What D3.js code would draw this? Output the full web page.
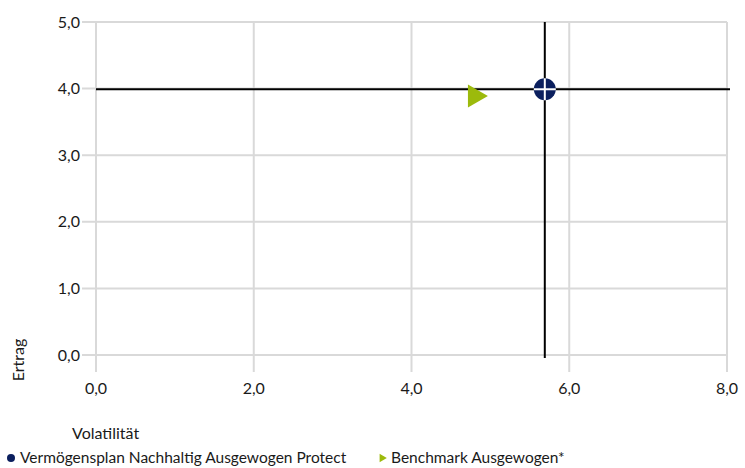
<!DOCTYPE html>
<html><head><meta charset="utf-8">
<script src="https://cdn.jsdelivr.net/npm/d3@7"></script>
<style>body{margin:0;background:#fff;} text{font-family:Lato,"Open Sans",sans-serif;fill:#1a1a1a;}</style>
</head><body><svg id="c" width="745" height="468"></svg>
<script>
const xTicks=[0,2,4,6,8];
const yTicks=[0,1,2,3,4,5];
const seriesNames=["Vermögensplan Nachhaltig Ausgewogen Protect","Benchmark Ausgewogen*"];
const fundPoint=[5.69,3.99];
const benchPoint=[4.8,3.89];
const fundColor="#0b1f5e", benchColor="#9cba0c";
const fmt=d=>d.toFixed(1).replace(".",",");

const svg=d3.select("#c");
const x=d3.scaleLinear().domain([0,8]).range([96,727]);
const y=d3.scaleLinear().domain([0,5]).range([355,22]);

// grid
svg.append("g").selectAll("line").data(yTicks).join("line")
 .attr("x1",82).attr("x2",x(8)).attr("y1",d=>y(d)).attr("y2",d=>y(d))
 .attr("stroke","#d9d9d9").attr("stroke-width",2);
svg.append("g").selectAll("line").data(xTicks).join("line")
 .attr("x1",d=>x(d)).attr("x2",d=>x(d)).attr("y1",y(5)).attr("y2",372)
 .attr("stroke","#d9d9d9").attr("stroke-width",2);

// tick labels
svg.append("g").selectAll("text").data(yTicks).join("text")
 .attr("x",80).attr("y",d=>y(d)).attr("dy","0.35em").attr("text-anchor","end")
 .attr("font-size",16).text(fmt);
svg.append("g").selectAll("text").data(xTicks).join("text")
 .attr("x",d=>x(d)).attr("y",388).attr("dy","0.35em").attr("text-anchor","middle")
 .attr("font-size",16).text(fmt);

// axis titles
svg.append("text").attr("transform","translate(24,360) rotate(-90)")
 .attr("text-anchor","middle").attr("font-size",16).text("Ertrag");
svg.append("text").attr("x",72).attr("y",433).attr("dy","0.35em")
 .attr("font-size",16).text("Volatilität");

// crosshair lines for fund
svg.append("line").attr("x1",x(0)).attr("x2",730).attr("y1",y(fundPoint[1])).attr("y2",y(fundPoint[1]))
 .attr("stroke","#000").attr("stroke-width",2);
svg.append("line").attr("x1",x(fundPoint[0])).attr("x2",x(fundPoint[0])).attr("y1",y(5)).attr("y2",358)
 .attr("stroke","#000").attr("stroke-width",2);

// benchmark triangle
const tri=d3.symbol().type(d3.symbolTriangle).size(230);
svg.append("path").attr("d",tri())
 .attr("transform",`translate(${x(benchPoint[0])},${y(benchPoint[1])}) rotate(90)`)
 .attr("fill",benchColor);

// fund marker
const fx=x(fundPoint[0]), fy=y(fundPoint[1]);
svg.append("circle").attr("cx",fx).attr("cy",fy).attr("r",11).attr("fill",fundColor);
svg.append("line").attr("x1",fx-11).attr("x2",fx+11).attr("y1",fy).attr("y2",fy).attr("stroke","#fff").attr("stroke-width",2);
svg.append("line").attr("x1",fx).attr("x2",fx).attr("y1",fy-11).attr("y2",fy+11).attr("stroke","#fff").attr("stroke-width",2);

// legend
svg.append("circle").attr("cx",11).attr("cy",458).attr("r",4).attr("fill",fundColor);
svg.append("text").attr("x",20).attr("y",458).attr("dy","0.35em").attr("font-size",15.5).text(seriesNames[0]);
svg.append("path").attr("d",d3.symbol().type(d3.symbolTriangle).size(30)())
 .attr("transform","translate(382,458) rotate(90)").attr("fill",benchColor);
svg.append("text").attr("x",391).attr("y",458).attr("dy","0.35em").attr("font-size",15.5).text(seriesNames[1]);
</script></body></html>
